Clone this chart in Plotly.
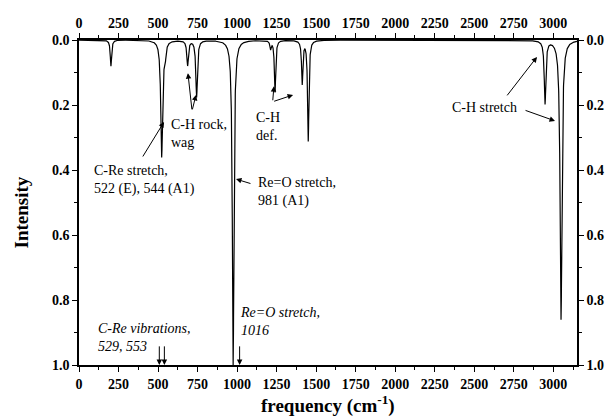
import numpy as np
import plotly.graph_objects as go

# ---- data ----
peak_freq = [202, 523, 544, 687, 744, 975, 1212, 1240, 1412, 1450, 2948, 3049]
peak_int = [0.08, 0.357, 0.05, 0.077, 0.175, 1.0, 0.025, 0.16, 0.133, 0.31, 0.194, 0.86]
peak_hwhm = [5, 7, 6, 6, 6, 6, 5, 5, 5, 5, 6, 7]

x_tickvals = [0, 250, 500, 750, 1000, 1250, 1500, 1750, 2000, 2250, 2500, 2750, 3000]
y_tickvals = [0.0, 0.2, 0.4, 0.6, 0.8, 1.0]

exp_cre_freq = [508, 540]      # experimental C-Re vibrations arrows
exp_reo_freq = [1016]          # experimental Re=O stretch arrow

# ---- broadened spectrum from the peak list ----
freq = np.arange(0, 3150.5, 0.5)
intensity = np.zeros_like(freq)
for f0, a, g in zip(peak_freq, peak_int, peak_hwhm):
    intensity += a * g ** 2 / ((freq - f0) ** 2 + g ** 2)
intensity = np.clip(intensity, 0, 1)

FONT = "Liberation Serif"

fig = go.Figure()
fig.add_trace(go.Scatter(x=freq, y=intensity, mode="lines",
                         line=dict(color="black", width=1.2), showlegend=False,
                         hoverinfo="skip"))
fig.add_trace(go.Scatter(x=[None], y=[None], xaxis="x2", yaxis="y2",
                         showlegend=False, hoverinfo="skip"))

tickfont = dict(family=FONT, size=14, color="black", weight="bold")

common_x = dict(range=[0, 3150], tickvals=x_tickvals, ticks="outside", ticklen=5,
                tickwidth=1.2, tickcolor="black", showline=True, linecolor="black",
                linewidth=1.5, showgrid=False, zeroline=False, tickfont=tickfont,
                automargin=False,
                minor=dict(ticks="outside", ticklen=3, tickcolor="black",
                           tickvals=[125 + 250 * i for i in range(13)]))
common_y = dict(range=[1.0, 0.0], tickvals=y_tickvals, tickformat=".1f", ticks="outside",
                ticklen=5, tickwidth=1.2, tickcolor="black", showline=True,
                linecolor="black", linewidth=1.5, showgrid=False, zeroline=False,
                tickfont=tickfont, automargin=False,
                minor=dict(ticks="outside", ticklen=3, tickcolor="black",
                           tickvals=[0.1, 0.3, 0.5, 0.7, 0.9]))

fig.update_layout(
    width=612, height=419,
    margin=dict(l=79, r=35, t=40, b=54),
    paper_bgcolor="white", plot_bgcolor="white",
    xaxis=dict(**common_x, side="bottom", mirror=True),
    yaxis=dict(**common_y, side="left", mirror=True),
    xaxis2=dict(**common_x, side="top", overlaying="x", anchor="y"),
    yaxis2=dict(**common_y, side="right", overlaying="y", anchor="x"),
    font=dict(family=FONT, color="black"),
)

ann = []
afont = dict(family=FONT, size=14, color="black")
ifont = dict(family=FONT, size=14, color="black", style="italic")

def text(x, y, s, font=afont):
    ann.append(dict(x=x, y=y, xref="x", yref="y", text=s, showarrow=False,
                    xanchor="left", yanchor="middle", align="left", font=font))

def arrow(tx, ty, hx, hy):
    ann.append(dict(x=hx, y=hy, ax=tx, ay=ty, xref="x", yref="y", axref="x", ayref="y",
                    text="", showarrow=True, arrowhead=2, arrowsize=1.1,
                    arrowwidth=1, arrowcolor="black"))

text(82, 0.431, "C-Re stretch,<br>522 (E), 544 (A1)")
arrow(398, 0.363, 538, 0.252)

text(569, 0.287, "C-H rock,<br>wag")
arrow(715, 0.218, 689, 0.102)
arrow(715, 0.218, 740, 0.169)

text(1104, 0.267, "C-H<br>def.")
arrow(1225, 0.19, 1233, 0.142)
arrow(1225, 0.19, 1354, 0.169)

text(1117, 0.467, "Re=O stretch,<br>981 (A1)")
arrow(1094, 0.443, 993, 0.428)

text(2344, 0.207, "C-H stretch")
arrow(2701, 0.175, 2897, 0.052)
arrow(2815, 0.215, 3011, 0.249)

text(109, 0.915, "C-Re vibrations,<br>529, 553", ifont)
for fx in exp_cre_freq:
    arrow(fx, 0.938, fx, 1.0)

text(1005, 0.866, "Re=O stretch,<br>1016", ifont)
for fx in exp_reo_freq:
    arrow(fx, 0.938, fx, 1.0)

# axis titles
ann.append(dict(x=0.5, y=-0.123, xref="paper", yref="paper", showarrow=False,
                text="frequency (cm<sup>-1</sup>)", xanchor="center", yanchor="middle",
                font=dict(family=FONT, size=19, color="black", weight="bold")))
ann.append(dict(x=-0.116, y=0.47, xref="paper", yref="paper", showarrow=False,
                text="Intensity", textangle=-90, xanchor="center", yanchor="middle",
                font=dict(family=FONT, size=19, color="black", weight="bold")))

fig.update_layout(annotations=ann)
fig.write_html("out.html", config={"displayModeBar": False},
               post_script="document.body.style.margin='0';document.body.style.overflow='hidden';")
